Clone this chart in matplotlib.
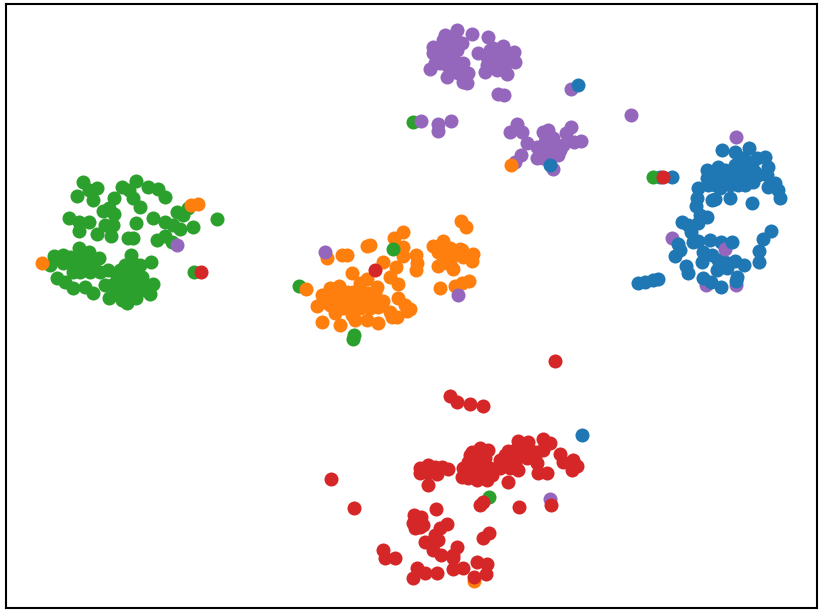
import matplotlib
matplotlib.use("Agg")
import matplotlib.pyplot as plt

# embedding points per class
green = [(83,182),(97,188),(77,196),(93,200),(89,190),(114,198),(122,187),(136,181),(129,190),(133,198),(140,207),
         (148,187),(158,189),(165,197),(103,211),(109,208),(114,214),(69,218),(79,222),(89,222),(79,231),(113,225),
         (105,225),(97,234),(111,236),(136,223),(128,238),(133,238),(153,218),(177,212),(183,215),(188,208),(165,222),
         (173,225),(180,229),(193,227),(217,219),(157,240),(165,236),(172,242),(194,272),
         (79,248),(89,252),(99,258),(54,256),(63,255),(50,265),(63,263),(73,265),(80,260),(87,262),(93,265),(73,272),
         (80,272),(90,272),(100,272),(108,270),(57,278),(65,282),(73,288),(85,287),(93,293),(105,285),(109,298),
         (131,255),(125,265),(133,263),(140,265),(151,262),(137,272),(117,277),(123,280),(142,277),(130,282),(153,284),
         (118,288),(127,288),(137,288),(150,294),(122,300),(127,303),(136,298),(145,290),(80,252),(70,257),(120,296),
         (135,296),(75,265),(85,258),(112,285),(120,270),(128,272),(135,282),(128,295),(142,285),
         (299,286),(354,335),(353,339),(413,122),(489,497)]

orange = [(461,221),(466,227),(403,232),(394,238),(403,247),(403,256),(367,246),(370,245),(342,255),(347,255),(327,258),
          (416,255),(417,263),(416,270),(433,246),(443,241),(450,248),(460,249),(438,252),(443,257),(453,255),(463,257),
          (473,254),(472,261),(438,266),(447,263),(453,269),(383,262),(396,267),(390,277),(398,284),(352,273),(440,288),
          (455,286),(462,283),(469,281),(306,289),
          (367,279),(360,283),(377,287),(330,288),(339,286),(322,295),(317,306),(325,302),(333,295),(340,293),(347,292),
          (353,292),(362,292),(368,293),(330,305),(338,303),(347,302),(355,300),(363,300),(373,298),(383,301),(335,313),
          (343,308),(352,315),(360,308),(370,308),(378,307),(398,298),(405,305),(410,309),(390,312),(397,317),(407,311),
          (322,322),(340,325),(355,320),(367,320),(378,323),(392,317),(350,307),
          (345,297),(358,297),(365,303),(340,297),(375,292),(450,262),(462,250),
          (191,205),(198,204),(42,263),(474,581)]

purple = [(457,30),(472,34),(443,40),(450,37),(433,47),(433,53),(443,47),(453,45),(462,43),(440,55),(450,55),(457,50),
          (435,63),(430,69),(463,63),(447,65),(455,65),(450,70),(468,73),(447,77),(458,73),(463,82),(467,83),
          (445,35),(448,42),(440,47),(455,38),(440,63),(460,70),(453,58),
          (488,37),(478,53),(503,46),(493,48),(514,52),(515,62),(487,57),(498,55),(507,58),(485,72),(497,70),(507,74),
          (487,65),(498,62),(493,58),(503,52),(493,65),(505,65),(490,50),
          (498,94),(504,95),(571,89),(421,121),(438,124),(438,131),(451,121),
          (517,124),(510,132),(522,132),(527,143),(548,130),(543,132),(571,127),(566,133),(581,141),(574,142),(537,147),
          (545,142),(553,138),(563,145),(537,158),(545,152),(553,148),(558,155),(543,158),(521,155),(515,162),(553,169),
          (548,140),(540,150),(550,160),(555,150),(545,135),(560,150),
          (631,115),(736,137),(672,238),(706,285),(736,285),(177,245),(325,252),(458,295),(550,499)]

blue = [(722,150),(735,152),(749,148),(742,158),(757,158),(765,157),(768,167),(707,170),(718,167),(738,167),(752,167),
        (707,178),(715,177),(722,180),(733,173),(745,175),(758,175),(767,175),(698,188),(708,185),(720,188),(730,185),
        (738,185),(753,182),(768,187),(775,183),(778,190),(780,198),(752,203),(730,198),(712,200),(715,199),(697,198),
        (696,206),(700,215),(707,217),(698,223),(682,222),(688,225),(691,232),(693,242),(698,241),(710,240),(721,242),
        (771,231),(763,239),(759,251),(759,262),(678,244),(680,250),(675,256),(686,266),(688,273),(703,252),(712,255),
        (702,262),(717,270),(718,260),(725,262),(727,268),(735,261),(744,265),(737,277),(736,281),(703,278),(711,282),
        (721,287),(658,279),(653,280),(645,282),(638,283),(672,177),(660,177),(725,175),(735,180),(740,165),(745,185),
        (750,175),(728,178),(735,165),(745,160),(715,185),(725,170),(755,172),(582,435)]

red = [(420,468),(420,473),(428,465),(428,473),(435,467),(437,474),(442,467),(448,469),(428,485),(425,468),(472,452),
       (480,448),(488,450),(468,462),(475,460),(463,468),(472,468),(462,477),(468,478),(477,480),(487,480),(492,475),
       (483,468),(490,468),(500,460),(508,451),(508,460),(500,468),(510,468),(518,441),(528,442),(515,450),(525,450),
       (517,458),(527,458),(518,470),(533,458),(543,439),(550,443),(543,450),(537,452),(538,473),(547,473),(537,463),
       (560,454),(563,462),(573,460),(577,466),(572,470),(508,482),(432,470),(470,455),(485,458),(480,472),(520,447),
       (505,455),(530,450),(515,465),(545,445),
       (414,515),(421,517),(413,523),(420,527),(415,528),(423,525),(436,509),(447,524),(440,528),(435,535),(425,542),
       (432,543),(438,540),(433,550),(441,555),(457,547),(453,555),(453,558),(383,550),(385,558),(395,558),(417,568),
       (425,573),(437,573),(413,578),(453,569),(463,568),(477,562),(487,564),(486,574),(474,577),(483,538),(489,533),
       (483,502),(480,505),(555,361),(450,396),(457,402),(470,404),(483,406),(331,479),(354,508),(519,507),(551,505),
       (201,272),(375,270)]

# the few points that sit on top of another class
late_points = [(578,85),(550,165),(511,165),(393,249),(653,177),(663,177),(725,249),(732,242)]
late_colors = ["tab:blue","tab:blue","tab:orange","tab:green","tab:green","tab:red","tab:purple","tab:blue"]

fig = plt.figure(figsize=(8.22, 6.12), dpi=100)
ax = fig.add_axes([6/822, 4/612, 811/822, 604/612])

for pts, col in [(green, "tab:green"), (orange, "tab:orange"), (purple, "tab:purple"),
                 (blue, "tab:blue"), (red, "tab:red")]:
    ax.scatter([p[0] for p in pts], [p[1] for p in pts], s=102, c=col, linewidths=0)

for p, col in zip(late_points, late_colors):
    ax.scatter(p[0], p[1], s=102, c=col, linewidths=0)

ax.set_xlim(6, 817)
ax.set_ylim(608, 4)
ax.set_xticks([])
ax.set_yticks([])
for s in ax.spines.values():
    s.set_linewidth(1.5)

fig.savefig("out.png", dpi=100)
